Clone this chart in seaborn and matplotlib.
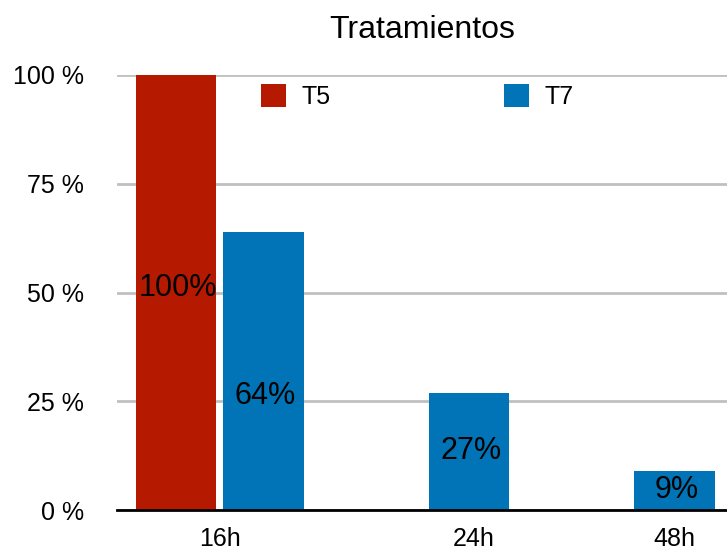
import matplotlib
matplotlib.use("Agg")
import matplotlib.pyplot as plt
import seaborn as sns
import pandas as pd
import numpy as np

# Chart data
categories = ["16h", "24h", "48h"]
series = ["T5", "T7"]
t5_values = [100, np.nan, np.nan]
t7_values = [64, 27, 9]
y_ticks = [0, 25, 50, 75, 100]
y_tick_labels = ["0 %", "25 %", "50 %", "75 %", "100 %"]

colors = {"T5": "#B51A00", "T7": "#0074B7"}

rows = []
for cat, v5, v7 in zip(categories, t5_values, t7_values):
    if not np.isnan(v5):
        rows.append({"cat": cat, "serie": "T5", "val": v5})
    rows.append({"cat": cat, "serie": "T7", "val": v7})
df = pd.DataFrame(rows)

sns.set_theme(style="white")
plt.rcParams["font.family"] = ["Liberation Sans", "DejaVu Sans"]
plt.rcParams["text.color"] = "black"
plt.rcParams["xtick.color"] = "black"
plt.rcParams["ytick.color"] = "black"

fig = plt.figure(figsize=(7.27, 5.53), dpi=100)
ax = fig.add_axes([117 / 727, 43 / 553, 610 / 727, 435 / 553])

sns.barplot(data=df, x="cat", y="val", hue="serie", order=categories,
            hue_order=series, palette=colors, width=0.85, gap=0.08,
            saturation=1, errorbar=None, linewidth=0, edgecolor="none",
            ax=ax, zorder=3)

# Value labels inside the bars (the 16h T7 label sits a little lower)
label_frac = {("16h", "T5"): 0.51, ("16h", "T7"): 0.41}
for container, name in zip(ax.containers, series):
    offset = -0.2125 if name == "T5" else 0.2125
    for patch in container:
        h = patch.get_height()
        if h is None or np.isnan(h):
            continue
        cx = patch.get_x() + patch.get_width() / 2
        cat = categories[int(round(cx - offset))]
        frac = label_frac.get((cat, name), 0.5)
        ax.text(cx + 0.01, h * frac, f"{h:.0f}%", ha="center", va="center",
                fontsize=22, color="black", zorder=5)

ax.set_xlim(-0.50, 2.468)
ax.set_ylim(0, 100)
ax.set_yticks(y_ticks)
ax.set_yticklabels(y_tick_labels, fontsize=18)
tick_x = [0, 1.235, 2.21]
ax.set_xticks(tick_x)
ax.set_xticklabels(categories, fontsize=18)
ax.tick_params(axis="y", length=0, pad=24)
ax.tick_params(axis="x", length=0, pad=12)
ax.set_xlabel("")
ax.set_ylabel("")

ax.grid(axis="y", color="#c0c0c0", linewidth=2, zorder=0)
ax.grid(axis="x", visible=False)
ax.set_axisbelow(True)
for side in ["left", "right", "top"]:
    ax.spines[side].set_visible(False)
ax.spines["bottom"].set_color("black")
ax.spines["bottom"].set_linewidth(2)
ax.spines["bottom"].set_zorder(4)

ax.set_title("Tratamientos", fontsize=23, pad=27, color="black")

sns.move_legend(ax, "center left", bbox_to_anchor=(0.236, 0.95), ncol=2,
                frameon=False, title=None, fontsize=18, handlelength=1.0,
                handleheight=1.0, handletextpad=0.64, columnspacing=6.9,
                borderpad=0, borderaxespad=0)
for t in ax.get_legend().get_texts():
    t.set_color("black")

fig.savefig("out.png", dpi=100)
